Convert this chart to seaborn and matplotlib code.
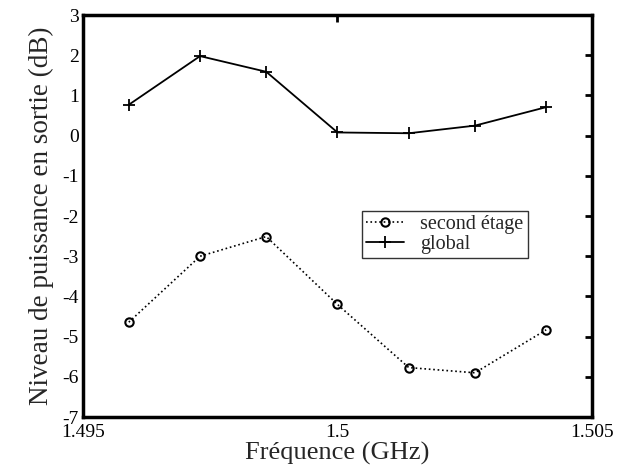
import numpy as np
import pandas as pd
import matplotlib
matplotlib.use("Agg")
import matplotlib.pyplot as plt
import seaborn as sns

# data
freq_ghz = [1.4959, 1.4973, 1.4986, 1.5000, 1.5014, 1.5027, 1.5041]
second_etage_db = [-4.64, -3.00, -2.51, -4.20, -5.77, -5.90, -4.83]
global_db = [0.77, 1.98, 1.59, 0.08, 0.06, 0.25, 0.71]
x_ticks = [1.495, 1.5, 1.505]
x_tick_labels = ["1.495", "1.5", "1.505"]
y_ticks = list(range(-7, 4))

sns.set_style("white")
plt.rcParams["font.family"] = ["Liberation Serif", "DejaVu Serif"]
plt.rcParams["axes.unicode_minus"] = False

df = pd.DataFrame({"freq": freq_ghz, "second": second_etage_db, "global": global_db})

fig = plt.figure(figsize=(6.17, 4.72), dpi=100)
ax = fig.add_axes([0.1345, 0.1165, 0.825, 0.8515])

sns.lineplot(data=df, x="freq", y="second", ax=ax, color="black", linestyle=":",
             linewidth=1.2, marker="o", markersize=6, markerfacecolor="none",
             markeredgecolor="black", markeredgewidth=1.5, label="second étage")
sns.lineplot(data=df, x="freq", y="global", ax=ax, color="black", linestyle="-",
             linewidth=1.3, marker="+", markersize=9, markeredgewidth=1.3,
             markeredgecolor="black", label="global")

ax.set_xlim(1.495, 1.505)
ax.set_ylim(-7, 3)
ax.set_xticks(x_ticks)
ax.set_xticklabels(x_tick_labels)
ax.set_yticks(y_ticks)
ax.set_yticklabels([str(v) for v in y_ticks])
ax.tick_params(direction="in", length=5, width=2, top=True, right=True,
               labelsize=14, colors="black", pad=3)
ax.tick_params(axis="x", pad=5)
for s in ax.spines.values():
    s.set_linewidth(2.5)
    s.set_color("black")

ax.set_xlabel("Fréquence (GHz)", fontsize=19, labelpad=1)
ax.set_ylabel("Niveau de puissance en sortie (dB)", fontsize=19.5, labelpad=6)

leg = ax.legend(loc="lower left", bbox_to_anchor=(0.548, 0.396), fontsize=14.5,
                frameon=True, fancybox=False, edgecolor="black", borderpad=0.2,
                handlelength=1.9, handletextpad=0.8, labelspacing=0.05,
                borderaxespad=0)
leg.get_frame().set_linewidth(1.0)

fig.savefig("out.png", dpi=100)
